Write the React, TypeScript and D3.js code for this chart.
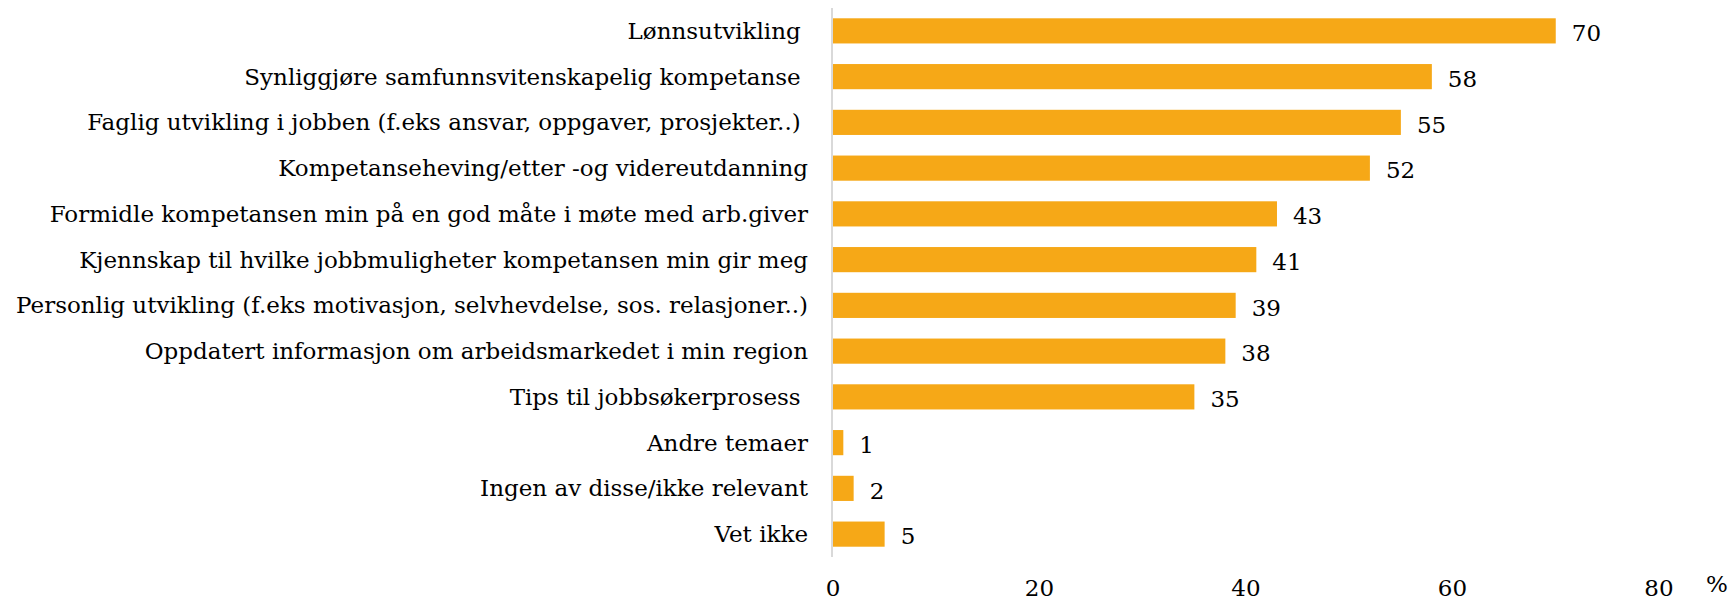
import React, { useEffect, useRef } from 'react';
import * as d3 from 'd3';

const categories = [
  'Lønnsutvikling ',
  'Synliggjøre samfunnsvitenskapelig kompetanse ',
  'Faglig utvikling i jobben (f.eks ansvar, oppgaver, prosjekter..) ',
  'Kompetanseheving/etter -og videreutdanning',
  'Formidle kompetansen min på en god måte i møte med arb.giver',
  'Kjennskap til hvilke jobbmuligheter kompetansen min gir meg',
  'Personlig utvikling (f.eks motivasjon, selvhevdelse, sos. relasjoner..)',
  'Oppdatert informasjon om arbeidsmarkedet i min region',
  'Tips til jobbsøkerprosess ',
  'Andre temaer',
  'Ingen av disse/ikke relevant',
  'Vet ikke',
];

const values = [70, 58, 55, 52, 43, 41, 39, 38, 35, 1, 2, 5];

const xTicks = [0, 20, 40, 60, 80];

export default function App() {
  const ref = useRef<SVGSVGElement>(null);

  useEffect(() => {
    const width = 1731;
    const height = 601;
    const margin = { top: 8, left: 833, right: 72, bottom: 44 };

    const svg = d3.select(ref.current);
    svg.selectAll('*').remove();

    const font = '"DejaVu Serif", Georgia, serif';
    const fontSize = 23;

    const xScale = d3
      .scaleLinear()
      .domain([0, 80])
      .range([margin.left, width - margin.right]);

    const yScale = d3
      .scaleBand()
      .domain(categories.map((c, i) => String(i)))
      .range([margin.top, height - margin.bottom])
      .paddingInner(0.45)
      .paddingOuter(0.225);

    svg
      .selectAll('rect.bar')
      .data(values)
      .enter()
      .append('rect')
      .attr('class', 'bar')
      .attr('x', xScale(0))
      .attr('y', (d, i) => yScale(String(i)) as number)
      .attr('width', (d) => xScale(d) - xScale(0))
      .attr('height', yScale.bandwidth())
      .attr('fill', '#F6A817');

    // axis line
    svg
      .append('line')
      .attr('x1', xScale(0) - 1)
      .attr('x2', xScale(0) - 1)
      .attr('y1', margin.top)
      .attr('y2', height - margin.bottom)
      .attr('stroke', '#d9d9d9')
      .attr('stroke-width', 2);

    // category labels
    svg
      .selectAll('text.cat')
      .data(categories)
      .enter()
      .append('text')
      .attr('class', 'cat')
      .attr('x', 808)
      .attr('y', (d, i) => (yScale(String(i)) as number) + yScale.bandwidth() / 2)
      .attr('dy', '0.35em')
      .attr('text-anchor', 'end')
      .style('white-space', 'pre')
      .attr('font-family', font)
      .attr('font-size', fontSize)
      .attr('fill', '#000')
      .text((d) => d);

    // value labels
    svg
      .selectAll('text.val')
      .data(values)
      .enter()
      .append('text')
      .attr('class', 'val')
      .attr('x', (d) => xScale(d) + 16)
      .attr('y', (d, i) => (yScale(String(i)) as number) + yScale.bandwidth() / 2)
      .attr('dy', '0.45em')
      .attr('font-family', font)
      .attr('font-size', fontSize)
      .attr('fill', '#000')
      .text((d) => d);

    // x tick labels
    svg
      .selectAll('text.tick')
      .data(xTicks)
      .enter()
      .append('text')
      .attr('class', 'tick')
      .attr('x', (d) => xScale(d))
      .attr('y', 596)
      .attr('text-anchor', 'middle')
      .attr('font-family', font)
      .attr('font-size', fontSize)
      .attr('fill', '#000')
      .text((d) => d);

    svg
      .append('text')
      .attr('x', 1706)
      .attr('y', 592)
      .attr('font-family', font)
      .attr('font-size', fontSize)
      .attr('fill', '#000')
      .text('%');
  }, []);

  return (
    <svg
      ref={ref}
      width={1731}
      height={601}
      style={{ position: 'absolute', left: 0, top: 0, background: '#fff' }}
    />
  );
}
